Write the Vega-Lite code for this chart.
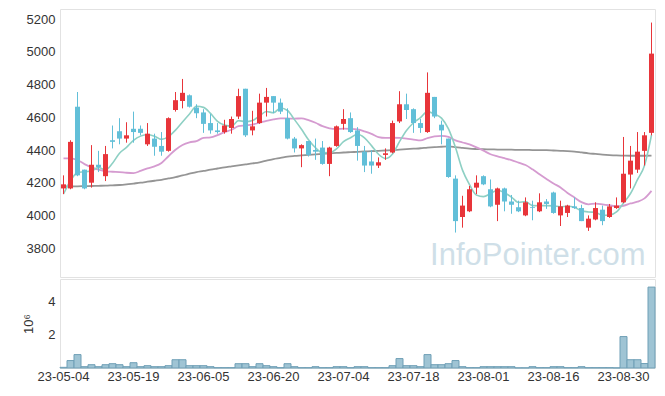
{
  "$schema": "https://vega.github.io/schema/vega-lite/v6.json",
  "padding": {"left": 22, "top": 8, "right": 5, "bottom": 5},
  "spacing": 0,
  "config": {
    "font": "Liberation Sans",
    "view": {"stroke": "#e2e2e2"},
    "axis": {"labelColor": "#333333", "titleColor": "#333333", "labelFontSize": 13, "grid": false, "ticks": false, "domain": false, "labelOverlap": false},
    "axisY": {"labelOverlap": false}
  },
  "data": {"values": [
    {"d":"23-05-04","o":4165,"h":4245,"l":4130,"c":4190,"v":0.04,"ma5":4131,"ma20":4349,"ma60":4178},
    {"d":"23-05-08","o":4165,"h":4460,"l":4160,"c":4450,"v":0.45,"ma5":4212,"ma20":4349,"ma60":4178},
    {"d":"23-05-09","o":4665,"h":4755,"l":4240,"c":4245,"v":0.81,"ma5":4263,"ma20":4339,"ma60":4178},
    {"d":"23-05-10","o":4280,"h":4280,"l":4160,"c":4165,"v":0.08,"ma5":4267,"ma20":4314,"ma60":4179},
    {"d":"23-05-11","o":4200,"h":4430,"l":4170,"c":4310,"v":0.2,"ma5":4272,"ma20":4294,"ma60":4180},
    {"d":"23-05-12","o":4310,"h":4395,"l":4265,"c":4295,"v":0.08,"ma5":4293,"ma20":4280,"ma60":4181},
    {"d":"23-05-15","o":4240,"h":4425,"l":4210,"c":4375,"v":0.2,"ma5":4278,"ma20":4270,"ma60":4182},
    {"d":"23-05-16","o":4460,"h":4550,"l":4410,"c":4450,"v":0.26,"ma5":4319,"ma20":4267,"ma60":4184},
    {"d":"23-05-17","o":4515,"h":4595,"l":4435,"c":4470,"v":0.2,"ma5":4380,"ma20":4265,"ma60":4186},
    {"d":"23-05-18","o":4470,"h":4570,"l":4445,"c":4490,"v":0.08,"ma5":4416,"ma20":4261,"ma60":4190},
    {"d":"23-05-19","o":4530,"h":4635,"l":4445,"c":4510,"v":0.32,"ma5":4459,"ma20":4259,"ma60":4195},
    {"d":"23-05-22","o":4530,"h":4550,"l":4490,"c":4505,"v":0.08,"ma5":4485,"ma20":4272,"ma60":4200},
    {"d":"23-05-23","o":4435,"h":4565,"l":4425,"c":4500,"v":0.14,"ma5":4495,"ma20":4288,"ma60":4206},
    {"d":"23-05-24","o":4470,"h":4500,"l":4365,"c":4420,"v":0.08,"ma5":4485,"ma20":4300,"ma60":4212},
    {"d":"23-05-25","o":4425,"h":4510,"l":4365,"c":4390,"v":0.08,"ma5":4465,"ma20":4321,"ma60":4218},
    {"d":"23-05-26","o":4395,"h":4600,"l":4390,"c":4595,"v":0.14,"ma5":4482,"ma20":4362,"ma60":4226},
    {"d":"23-05-30","o":4645,"h":4755,"l":4635,"c":4705,"v":0.5,"ma5":4522,"ma20":4402,"ma60":4234},
    {"d":"23-05-31","o":4700,"h":4835,"l":4655,"c":4750,"v":0.5,"ma5":4572,"ma20":4431,"ma60":4245},
    {"d":"23-06-01","o":4735,"h":4740,"l":4660,"c":4665,"v":0.14,"ma5":4621,"ma20":4447,"ma60":4255},
    {"d":"23-06-02","o":4660,"h":4680,"l":4595,"c":4625,"v":0.14,"ma5":4668,"ma20":4455,"ma60":4265},
    {"d":"23-06-05","o":4630,"h":4650,"l":4505,"c":4560,"v":0.14,"ma5":4661,"ma20":4474,"ma60":4272},
    {"d":"23-06-07","o":4565,"h":4620,"l":4500,"c":4520,"v":0.08,"ma5":4624,"ma20":4477,"ma60":4280},
    {"d":"23-06-08","o":4520,"h":4565,"l":4500,"c":4510,"v":0.02,"ma5":4576,"ma20":4491,"ma60":4287},
    {"d":"23-06-09","o":4510,"h":4585,"l":4500,"c":4550,"v":0.02,"ma5":4553,"ma20":4510,"ma60":4294},
    {"d":"23-06-12","o":4535,"h":4605,"l":4500,"c":4590,"v":0.02,"ma5":4546,"ma20":4524,"ma60":4300},
    {"d":"23-06-13","o":4605,"h":4775,"l":4590,"c":4730,"v":0.26,"ma5":4580,"ma20":4546,"ma60":4306},
    {"d":"23-06-14","o":4775,"h":4775,"l":4480,"c":4490,"v":0.26,"ma5":4574,"ma20":4551,"ma60":4312},
    {"d":"23-06-15","o":4520,"h":4640,"l":4490,"c":4545,"v":0.08,"ma5":4581,"ma20":4556,"ma60":4318},
    {"d":"23-06-16","o":4565,"h":4745,"l":4560,"c":4690,"v":0.26,"ma5":4609,"ma20":4567,"ma60":4325},
    {"d":"23-06-19","o":4690,"h":4780,"l":4605,"c":4725,"v":0.14,"ma5":4636,"ma20":4579,"ma60":4335},
    {"d":"23-06-20","o":4730,"h":4730,"l":4625,"c":4690,"v":0.08,"ma5":4628,"ma20":4588,"ma60":4345},
    {"d":"23-06-21","o":4690,"h":4715,"l":4620,"c":4635,"v":0.02,"ma5":4657,"ma20":4594,"ma60":4352},
    {"d":"23-06-22","o":4595,"h":4655,"l":4465,"c":4470,"v":0.26,"ma5":4642,"ma20":4593,"ma60":4360},
    {"d":"23-06-23","o":4470,"h":4480,"l":4385,"c":4410,"v":0.08,"ma5":4586,"ma20":4592,"ma60":4364},
    {"d":"23-06-26","o":4410,"h":4435,"l":4295,"c":4430,"v":0.02,"ma5":4527,"ma20":4594,"ma60":4367},
    {"d":"23-06-27","o":4455,"h":4455,"l":4360,"c":4370,"v":0.02,"ma5":4463,"ma20":4583,"ma60":4370},
    {"d":"23-06-28","o":4400,"h":4470,"l":4340,"c":4390,"v":0.08,"ma5":4414,"ma20":4567,"ma60":4373},
    {"d":"23-06-29","o":4415,"h":4455,"l":4310,"c":4315,"v":0.02,"ma5":4383,"ma20":4546,"ma60":4376},
    {"d":"23-06-30","o":4315,"h":4420,"l":4240,"c":4415,"v":0.02,"ma5":4384,"ma20":4533,"ma60":4379},
    {"d":"23-07-03","o":4425,"h":4550,"l":4420,"c":4545,"v":0.08,"ma5":4407,"ma20":4529,"ma60":4382},
    {"d":"23-07-04","o":4560,"h":4650,"l":4525,"c":4590,"v":0.08,"ma5":4451,"ma20":4531,"ma60":4385},
    {"d":"23-07-05","o":4595,"h":4630,"l":4505,"c":4510,"v":0.02,"ma5":4475,"ma20":4530,"ma60":4387},
    {"d":"23-07-06","o":4520,"h":4540,"l":4335,"c":4425,"v":0.08,"ma5":4497,"ma20":4526,"ma60":4389},
    {"d":"23-07-07","o":4390,"h":4425,"l":4265,"c":4305,"v":0.08,"ma5":4475,"ma20":4514,"ma60":4391},
    {"d":"23-07-10","o":4330,"h":4400,"l":4255,"c":4305,"v":0.02,"ma5":4427,"ma20":4499,"ma60":4393},
    {"d":"23-07-11","o":4305,"h":4355,"l":4290,"c":4325,"v":0.02,"ma5":4374,"ma20":4479,"ma60":4395},
    {"d":"23-07-12","o":4370,"h":4410,"l":4340,"c":4380,"v":0.02,"ma5":4348,"ma20":4474,"ma60":4397},
    {"d":"23-07-13","o":4385,"h":4580,"l":4380,"c":4565,"v":0.14,"ma5":4376,"ma20":4475,"ma60":4399},
    {"d":"23-07-14","o":4575,"h":4760,"l":4565,"c":4680,"v":0.57,"ma5":4451,"ma20":4474,"ma60":4402},
    {"d":"23-07-17","o":4680,"h":4745,"l":4590,"c":4645,"v":0.14,"ma5":4519,"ma20":4470,"ma60":4405},
    {"d":"23-07-18","o":4650,"h":4655,"l":4505,"c":4565,"v":0.14,"ma5":4567,"ma20":4464,"ma60":4408},
    {"d":"23-07-19","o":4565,"h":4590,"l":4505,"c":4535,"v":0.08,"ma5":4598,"ma20":4459,"ma60":4411},
    {"d":"23-07-20","o":4510,"h":4875,"l":4505,"c":4750,"v":0.81,"ma5":4635,"ma20":4473,"ma60":4415},
    {"d":"23-07-21","o":4725,"h":4725,"l":4595,"c":4605,"v":0.2,"ma5":4620,"ma20":4483,"ma60":4418},
    {"d":"23-07-24","o":4555,"h":4580,"l":4435,"c":4520,"v":0.2,"ma5":4595,"ma20":4487,"ma60":4420},
    {"d":"23-07-25","o":4470,"h":4470,"l":4230,"c":4235,"v":0.26,"ma5":4529,"ma20":4480,"ma60":4422},
    {"d":"23-07-26","o":4225,"h":4245,"l":3895,"c":3965,"v":0.45,"ma5":4415,"ma20":4459,"ma60":4418},
    {"d":"23-07-27","o":3990,"h":4120,"l":3925,"c":4060,"v":0.08,"ma5":4277,"ma20":4446,"ma60":4413},
    {"d":"23-07-28","o":4025,"h":4180,"l":4020,"c":4160,"v":0.02,"ma5":4188,"ma20":4434,"ma60":4408},
    {"d":"23-07-31","o":4170,"h":4245,"l":4130,"c":4200,"v":0.02,"ma5":4124,"ma20":4416,"ma60":4406},
    {"d":"23-08-01","o":4240,"h":4245,"l":4185,"c":4190,"v":0.08,"ma5":4115,"ma20":4396,"ma60":4405},
    {"d":"23-08-02","o":4160,"h":4220,"l":4050,"c":4055,"v":0.08,"ma5":4133,"ma20":4374,"ma60":4404},
    {"d":"23-08-03","o":4065,"h":4170,"l":3965,"c":4165,"v":0.08,"ma5":4154,"ma20":4361,"ma60":4403},
    {"d":"23-08-04","o":4165,"h":4170,"l":4025,"c":4085,"v":0.08,"ma5":4139,"ma20":4350,"ma60":4402},
    {"d":"23-08-07","o":4085,"h":4125,"l":4010,"c":4065,"v":0.08,"ma5":4112,"ma20":4338,"ma60":4402},
    {"d":"23-08-08","o":4050,"h":4090,"l":4020,"c":4025,"v":0.01,"ma5":4079,"ma20":4323,"ma60":4401},
    {"d":"23-08-09","o":4000,"h":4110,"l":3995,"c":4080,"v":0.01,"ma5":4084,"ma20":4308,"ma60":4401},
    {"d":"23-08-10","o":4050,"h":4090,"l":3970,"c":4045,"v":0.08,"ma5":4060,"ma20":4282,"ma60":4400},
    {"d":"23-08-11","o":4025,"h":4135,"l":4020,"c":4080,"v":0.02,"ma5":4059,"ma20":4252,"ma60":4400},
    {"d":"23-08-14","o":4085,"h":4100,"l":4040,"c":4070,"v":0.02,"ma5":4060,"ma20":4223,"ma60":4399},
    {"d":"23-08-16","o":4140,"h":4145,"l":4010,"c":4015,"v":0.08,"ma5":4058,"ma20":4195,"ma60":4397},
    {"d":"23-08-17","o":4000,"h":4090,"l":3935,"c":4055,"v":0.08,"ma5":4053,"ma20":4171,"ma60":4395},
    {"d":"23-08-18","o":4015,"h":4065,"l":3990,"c":4060,"v":0.02,"ma5":4056,"ma20":4137,"ma60":4393},
    {"d":"23-08-21","o":4055,"h":4110,"l":4040,"c":4045,"v":0.02,"ma5":4049,"ma20":4109,"ma60":4390},
    {"d":"23-08-22","o":4045,"h":4065,"l":3965,"c":3965,"v":0.08,"ma5":4028,"ma20":4081,"ma60":4385},
    {"d":"23-08-23","o":3925,"h":4000,"l":3905,"c":3980,"v":0.02,"ma5":4021,"ma20":4068,"ma60":4380},
    {"d":"23-08-24","o":3975,"h":4080,"l":3970,"c":4045,"v":0.02,"ma5":4019,"ma20":4072,"ma60":4376},
    {"d":"23-08-25","o":4035,"h":4060,"l":3940,"c":3965,"v":0.02,"ma5":4000,"ma20":4068,"ma60":4372},
    {"d":"23-08-28","o":3990,"h":4070,"l":3985,"c":4055,"v":0.02,"ma5":4002,"ma20":4062,"ma60":4369},
    {"d":"23-08-29","o":4045,"h":4110,"l":4040,"c":4060,"v":0.01,"ma5":4021,"ma20":4055,"ma60":4367},
    {"d":"23-08-30","o":4080,"h":4480,"l":4075,"c":4255,"v":1.9,"ma5":4076,"ma20":4059,"ma60":4366},
    {"d":"23-08-31","o":4250,"h":4425,"l":4165,"c":4335,"v":0.5,"ma5":4134,"ma20":4073,"ma60":4365},
    {"d":"23-09-01","o":4280,"h":4510,"l":4260,"c":4390,"v":0.5,"ma5":4219,"ma20":4084,"ma60":4365},
    {"d":"23-09-04","o":4395,"h":4510,"l":4305,"c":4490,"v":0.27,"ma5":4306,"ma20":4104,"ma60":4365},
    {"d":"23-09-05","o":4505,"h":5180,"l":4490,"c":4990,"v":4.89,"ma5":4492,"ma20":4150,"ma60":4366}
  ]},
  "vconcat": [
    {
      "width": 595,
      "height": 268,
      "encoding": {
        "x": {"field": "d", "type": "ordinal", "scale": {"paddingInner": 0, "paddingOuter": 0}, "axis": null}
      },
      "layer": [
        {
          "data": {"values": [{"t": "InfoPointer.com"}]},
          "mark": {"type": "text", "align": "right", "baseline": "alphabetic", "fontSize": 31, "color": "#cfdfe8", "dx": -6},
          "encoding": {
            "text": {"field": "t"},
            "x": {"datum": "23-09-05"},
            "y": {"datum": 3696, "type": "quantitative", "scale": {"domain": [3623, 5263], "nice": false, "zero": false},
                  "axis": {"values": [3800, 4000, 4200, 4400, 4600, 4800, 5000, 5200], "format": "d", "title": null, "labelPadding": 5, "labelFontSize": 13, "labelOverlap": false}}
          }
        },
        {
          "mark": {"type": "line", "color": "#959595", "strokeWidth": 1.8, "interpolate": "monotone"},
          "encoding": {
            "y": {"field": "ma60", "type": "quantitative", "axis": {"values": [3800, 4000, 4200, 4400, 4600, 4800, 5000, 5200], "format": "d", "title": null, "labelOverlap": false}}
          }
        },
        {
          "mark": {"type": "line", "color": "#d59bd0", "strokeWidth": 1.8, "interpolate": "monotone"},
          "encoding": {"y": {"field": "ma20", "type": "quantitative", "axis": {"values": [3800, 4000, 4200, 4400, 4600, 4800, 5000, 5200], "format": "d", "title": null, "labelOverlap": false}}}
        },
        {
          "mark": {"type": "line", "color": "#8ed0c4", "strokeWidth": 1.6, "interpolate": "monotone"},
          "encoding": {"y": {"field": "ma5", "type": "quantitative", "axis": {"values": [3800, 4000, 4200, 4400, 4600, 4800, 5000, 5200], "format": "d", "title": null, "labelOverlap": false}}}
        },
        {
          "mark": {"type": "rule", "strokeWidth": 1},
          "encoding": {
            "y": {"field": "l", "type": "quantitative", "axis": {"values": [3800, 4000, 4200, 4400, 4600, 4800, 5000, 5200], "format": "d", "title": null, "labelOverlap": false}},
            "y2": {"field": "h"},
            "color": {"condition": {"test": "datum.c >= datum.o", "value": "#e8353a"}, "value": "#62bfd8"}
          }
        },
        {
          "mark": {"type": "bar", "size": 5},
          "encoding": {
            "y": {"field": "o", "type": "quantitative", "axis": {"values": [3800, 4000, 4200, 4400, 4600, 4800, 5000, 5200], "format": "d", "title": null, "labelOverlap": false}},
            "y2": {"field": "c"},
            "color": {"condition": {"test": "datum.c >= datum.o", "value": "#e8353a"}, "value": "#62bfd8"}
          }
        }
      ]
    },
    {
      "width": 595,
      "height": 89,
      "mark": {"type": "bar", "fill": "#9fc4d4", "stroke": "#6f9fb6", "strokeWidth": 1},
      "encoding": {
        "x": {"field": "d", "type": "ordinal", "scale": {"paddingInner": 0, "paddingOuter": 0},
              "axis": {"values": ["23-05-04", "23-05-19", "23-06-05", "23-06-20", "23-07-04", "23-07-18", "23-08-01", "23-08-16", "23-08-30"],
                       "labelAngle": 0, "title": null, "labelPadding": 2, "labelFontSize": 13, "labelOverlap": false}},
        "y": {"field": "v", "type": "quantitative", "scale": {"domain": [0, 5.38], "nice": false},
              "axis": {"values": [2, 4], "title": "10⁶", "titleFontSize": 13, "titleFontWeight": "normal", "labelPadding": 5, "labelFontSize": 13, "titlePadding": 12}}
      }
    }
  ]
}
